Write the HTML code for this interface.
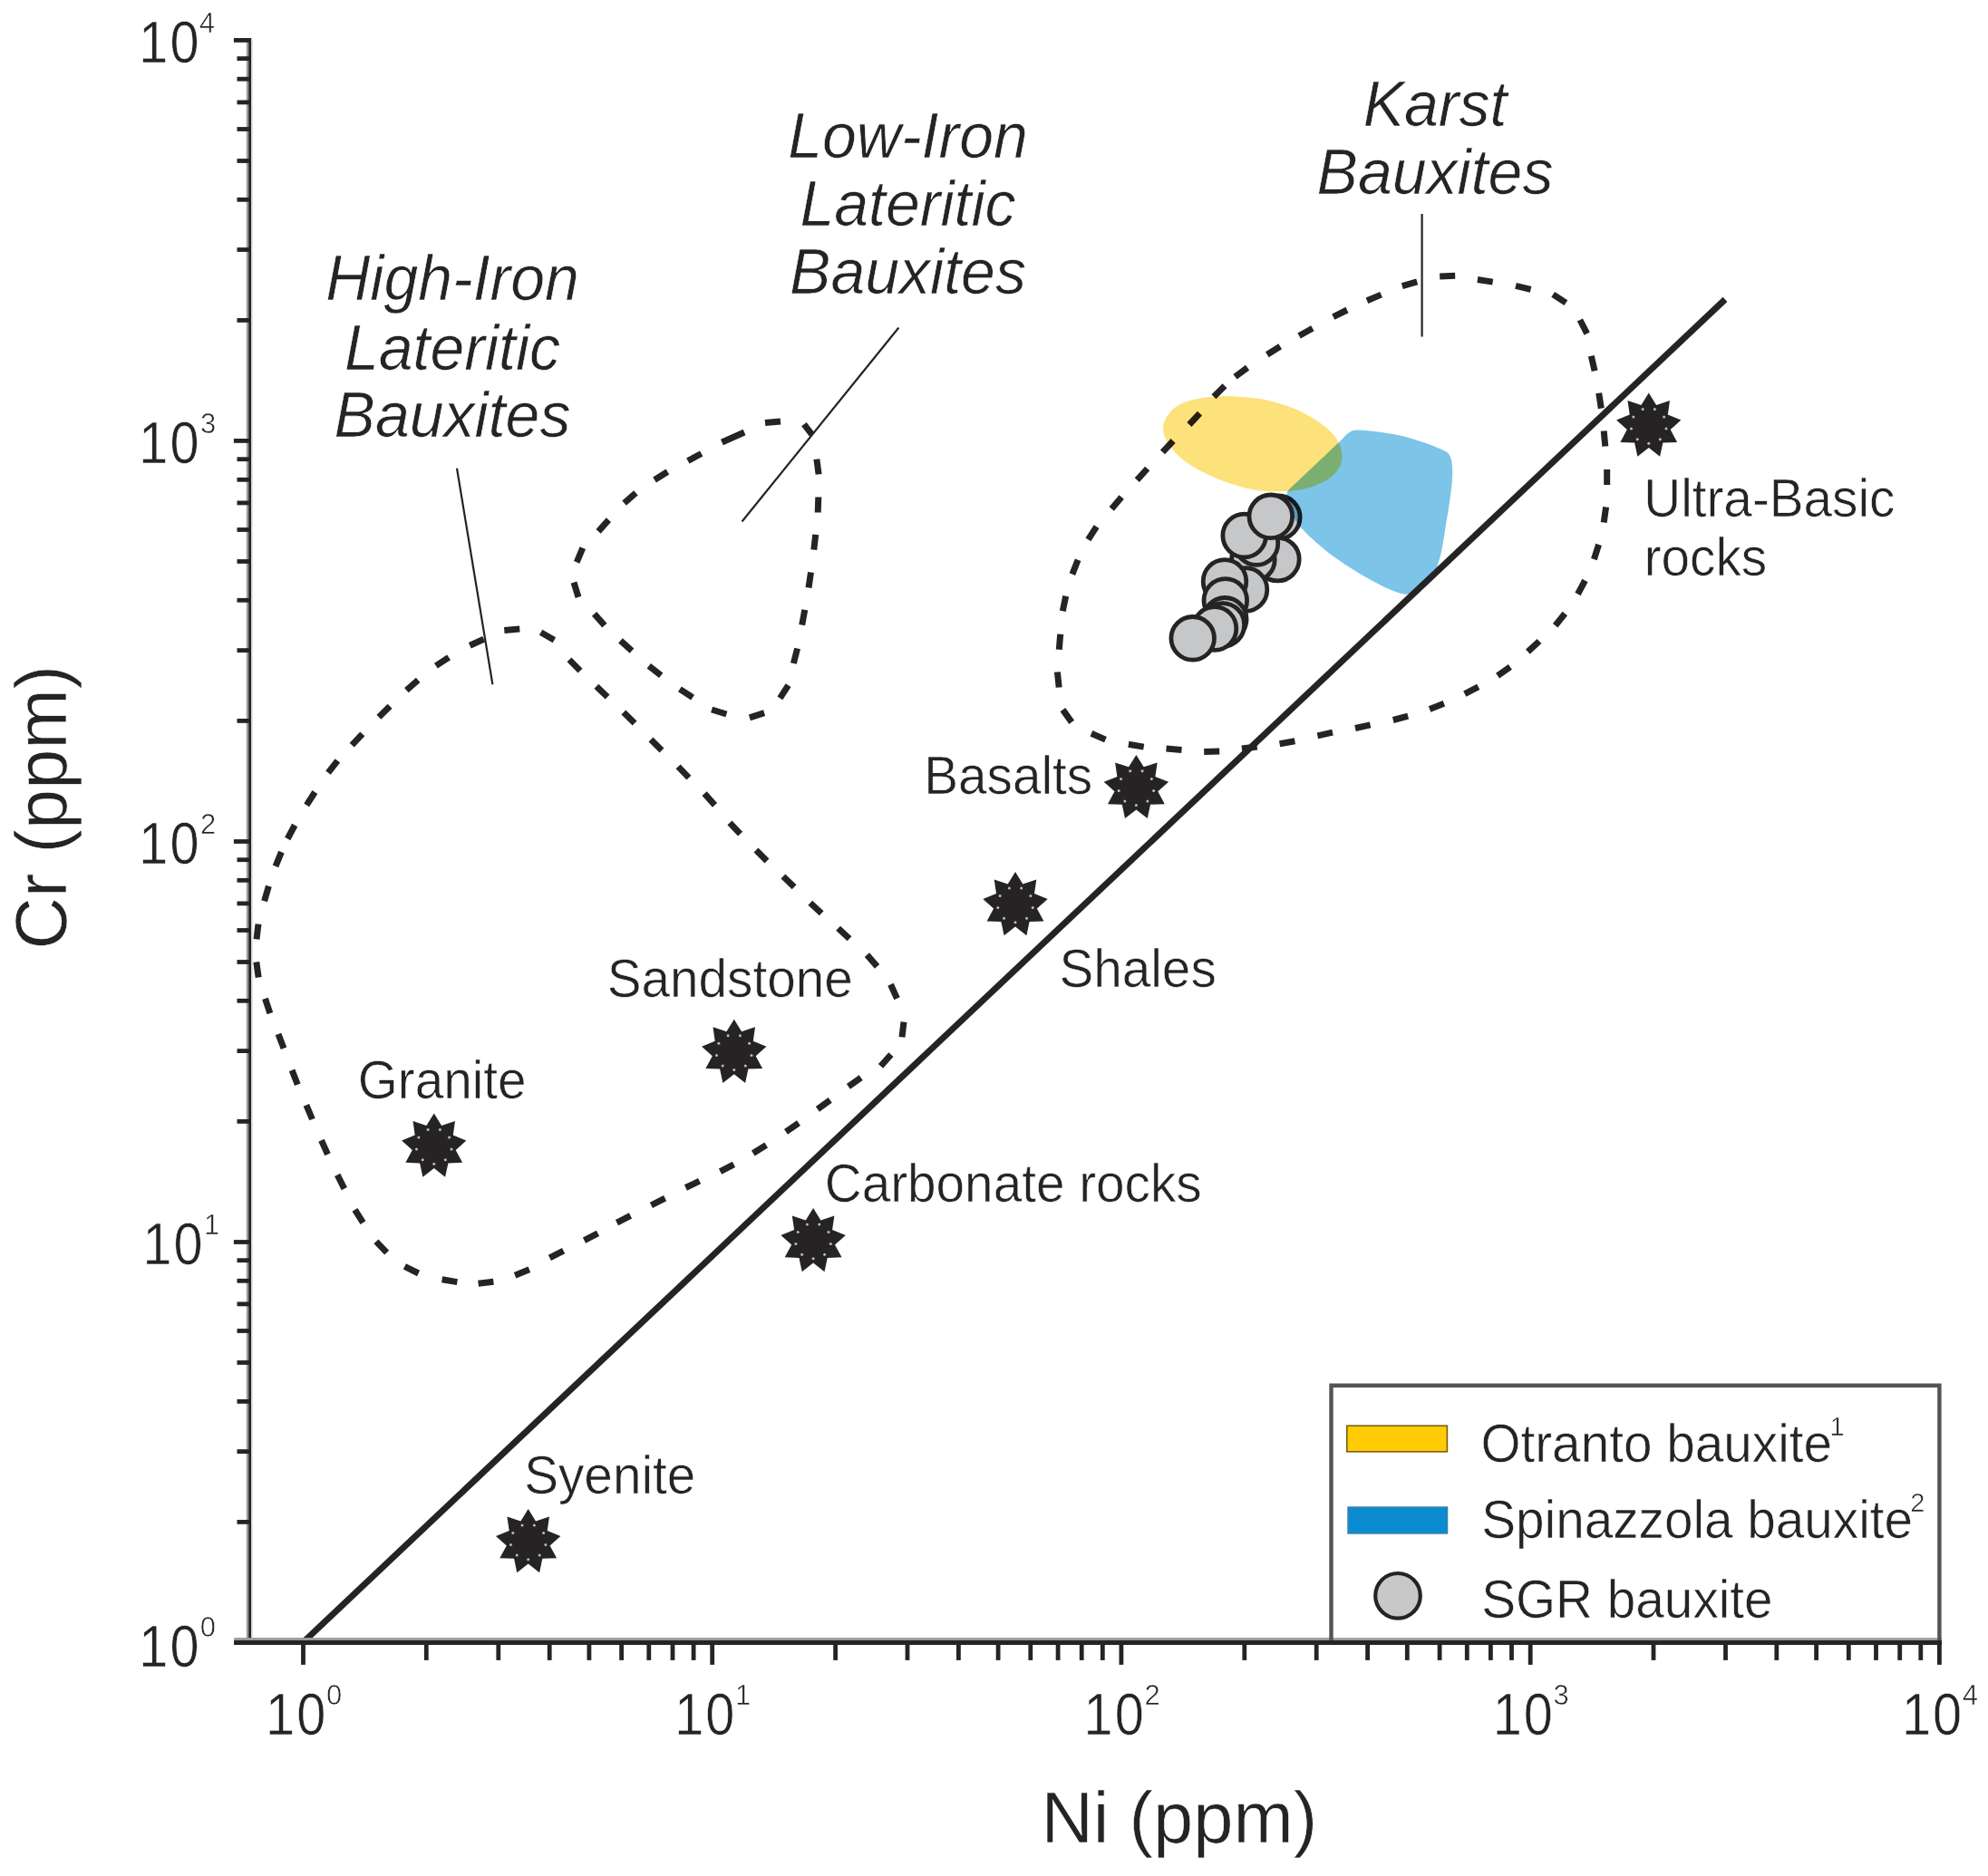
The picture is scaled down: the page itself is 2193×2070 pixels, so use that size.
<!DOCTYPE html>
<html lang="en"><head><meta charset="utf-8"><title>Cr vs Ni bauxite provenance diagram</title>
<style>html,body{margin:0;padding:0;background:#fff}body{width:2193px;height:2070px;overflow:hidden}svg{display:block}text{font-family:"Liberation Sans",sans-serif;fill:#262324;stroke:#fff;stroke-width:.6px}.lab{font-size:56.7px}.it{font-size:68px;font-style:italic;text-anchor:middle}.tk{font-size:65.5px}.sup{font-size:31px}.sup2{font-size:29px}.ax{font-size:79.5px}</style></head><body>
<svg width="2193" height="2070" viewBox="0 0 2193 2070">
<rect width="2193" height="2070" fill="#fff"/>
<g id="fields">
<path d="M573.3,694.1L556.3,695.5M533.7,705.3L518.3,712.3M495.1,725.3L480.9,734.7M461.2,750.4L448.4,761.6M430.1,779.2L417.9,791.2M399.8,809.8L388.2,822.2M372.4,839.3L362.0,852.7M347.4,874.0L338.2,888.4M325.2,910.5L317.2,925.5M310.4,940.1L304.0,955.9M296.4,977.8L291.6,994.2M285.0,1019.6L283.0,1036.4M282.8,1061.6L285.2,1078.4M292.5,1101.9L297.9,1118.1M307.0,1140.9L313.0,1156.7M322.1,1180.9L328.3,1196.7M337.9,1219.4L344.5,1235.0M354.5,1258.3L361.5,1273.7M372.2,1296.4L379.8,1311.6M391.5,1334.8L400.5,1349.2M414.9,1369.9L426.7,1382.1M446.4,1397.4L461.6,1405.0M487.6,1411.8L504.4,1414.6M527.6,1416.2L544.4,1414.2M568.1,1407.2L583.9,1400.8M606.4,1387.9L621.6,1380.1M644.5,1368.7L659.5,1360.9M680.5,1349.1L695.5,1341.3M718.4,1329.8L733.6,1322.2M756.4,1310.5L771.6,1303.1M794.5,1292.7L809.5,1284.9M830.8,1272.5L845.2,1263.5M867.0,1248.9L881.0,1239.1M901.9,1223.8L915.7,1213.8M935.9,1198.9L949.7,1189.1M971.5,1176.3L982.9,1163.7M995.0,1144.4L997.0,1127.6M989.5,1101.8L982.5,1086.2M967.6,1066.4L956.4,1053.6M937.0,1035.8L924.6,1024.2M906.2,1007.8L893.8,996.2M876.1,978.7L863.9,966.9M846.0,950.0L834.0,938.0M816.6,920.2L805.0,907.8M788.5,888.3L777.1,875.7M759.9,858.1L748.1,845.9M730.0,828.0L718.0,816.0M700.1,797.9L687.9,786.1M670.1,769.1L657.9,757.3M640.0,740.1L628.0,727.9M611.4,706.2L596.6,697.8" fill="none" stroke="#262324" stroke-width="7"/>
<path d="M886.9,468.2L895.6,479.3M900.9,506.6L903.1,523.4M902.8,548.5L902.2,565.5M899.7,589.8L897.8,606.7M894.5,631.6L892.0,648.4M887.8,672.9L884.7,689.6M879.6,715.5L875.4,732.0M869.6,756.1L860.4,770.4M843.1,786.7L826.9,791.8M801.4,788.0L785.1,783.0M764.1,769.6L749.9,760.4M729.2,745.3L715.8,734.7M697.0,718.2L684.5,706.8M666.9,690.1L655.6,677.4M638.0,658.9L633.0,642.6M636.2,620.3L642.8,604.7M660.1,586.4L671.4,573.6M688.6,555.1L701.4,543.9M722.1,529.5L736.4,520.5M758.8,508.5L773.7,500.5M796.4,488.0L821.1,477.0M844.0,466.6L861.0,464.9" fill="none" stroke="#262324" stroke-width="7"/>
<path d="M1588.2,304.9L1605.2,304.3M1629.9,308.5L1646.7,311.1M1672.0,315.4L1688.6,319.4M1713.2,324.9L1727.4,334.1M1742.9,353.0L1750.7,368.2M1755.3,392.7L1759.1,409.3M1763.7,433.8L1766.3,450.6M1769.2,475.5L1770.8,492.5M1772.7,517.9L1772.7,534.9M1771.6,559.6L1769.2,576.4M1763.6,600.9L1758.4,617.1M1748.5,640.5L1740.5,655.5M1726.3,677.0L1715.7,690.2M1698.0,707.5L1685.4,719.1M1665.9,735.8L1652.1,745.6M1630.8,757.8L1615.8,765.6M1592.9,776.2L1577.1,782.4M1553.2,790.1L1536.8,794.5M1511.6,799.9L1495.0,803.5M1470.0,808.2L1453.4,811.8M1428.4,817.8L1411.6,820.8M1386.7,824.0L1369.9,826.0M1345.2,829.1L1328.2,829.5M1303.5,827.4L1286.5,826.0M1261.7,824.1L1244.9,821.3M1219.5,816.1L1203.9,809.3M1182.2,796.9L1172.4,783.1M1168.2,758.5L1166.4,741.5M1168.3,716.8L1169.7,699.8M1172.3,674.3L1175.7,657.7M1182.9,633.6L1189.1,617.8M1200.4,595.4L1209.6,581.2M1226.2,561.5L1237.2,548.5M1254.3,529.6L1265.7,517.0M1282.5,498.9L1294.1,486.5M1311.9,468.5L1323.5,456.1M1339.0,437.7L1351.0,425.7M1362.5,415.8L1376.1,405.6M1397.8,391.2L1412.2,382.2M1433.1,370.5L1447.9,362.3M1470.8,349.6L1486.0,342.0M1508.0,331.7L1523.6,325.1M1546.8,315.6L1563.2,310.8" fill="none" stroke="#262324" stroke-width="7"/>
</g>
<g stroke="#262324" stroke-width="2.2" fill="none"><line x1="504" y1="516.7" x2="543.4" y2="755.2"/><line x1="991.4" y1="361.5" x2="818.5" y2="575.5"/><line x1="1568.6" y1="236" x2="1568.6" y2="371.5"/></g>
<line x1="334" y1="1812.5" x2="1903" y2="330.4" stroke="#262324" stroke-width="7"/>
<g><circle cx="1410.3" cy="570.8" r="23.8" fill="#c6c7c9" stroke="#262324" stroke-width="4.8"/></g>
<g style="mix-blend-mode:multiply"><path d="M1282.9,473.1C1282.9,466.9 1286.4,459.8 1290.6,454.9C1294.8,450.0 1300.1,446.4 1307.8,443.5C1315.5,440.6 1326.6,438.7 1336.5,437.7C1346.4,436.7 1356.8,437.1 1367.0,437.7C1377.2,438.3 1387.4,439.3 1397.6,441.5C1407.8,443.7 1419.0,447.3 1428.2,451.1C1437.5,454.9 1446.1,459.9 1453.1,464.5C1460.1,469.1 1466.0,473.9 1470.3,478.8C1474.6,483.7 1477.3,489.0 1478.9,494.1C1480.5,499.2 1480.9,504.6 1479.8,509.4C1478.7,514.2 1476.0,518.8 1472.2,522.8C1468.4,526.8 1463.0,530.4 1456.9,533.3C1450.9,536.2 1443.2,538.5 1435.9,540.0C1428.6,541.5 1421.2,542.1 1412.9,542.3C1404.6,542.4 1395.1,542.2 1386.2,540.9C1377.3,539.5 1368.3,537.1 1359.4,534.2C1350.5,531.3 1341.2,527.8 1332.6,523.7C1324.0,519.6 1314.8,514.6 1307.8,509.4C1300.8,504.1 1294.8,498.2 1290.6,492.2C1286.4,486.1 1282.9,479.3 1282.9,473.1Z" fill="#fde27c"/></g>
<g style="mix-blend-mode:multiply"><path d="M1497,474.6 C1491,474.6 1486,478 1481.7,483.6 L1422,540 C1419,543 1419,545.5 1420.5,549 C1424,566 1429,576 1435.9,583 C1445,593 1458,604 1470.3,613.6 C1489,627 1508,638.4 1527.6,648 C1538,652.5 1549,657 1554.4,655.6 L1585,626 C1589,616 1592,600 1594.5,582 C1599,556 1602,535 1602.2,524.7 C1602.5,510 1601,501 1594.5,497.9 C1580,491 1563,485.5 1546.7,481.1 C1530,477.5 1512,475 1497,474.6Z" fill="#7cc4e8"/></g>
<g><circle cx="1409.4" cy="617.1" r="23.8" fill="#c6c7c9" stroke="#262324" stroke-width="4.8"/><circle cx="1382.4" cy="617.4" r="23.8" fill="#c6c7c9" stroke="#262324" stroke-width="4.8"/><circle cx="1386" cy="599.5" r="23.8" fill="#c6c7c9" stroke="#262324" stroke-width="4.8"/><circle cx="1374" cy="650.5" r="23.8" fill="#c6c7c9" stroke="#262324" stroke-width="4.8"/><circle cx="1351" cy="641.5" r="23.8" fill="#c6c7c9" stroke="#262324" stroke-width="4.8"/><circle cx="1351.8" cy="662.5" r="23.8" fill="#c6c7c9" stroke="#262324" stroke-width="4.8"/><circle cx="1351.3" cy="683.3" r="23.8" fill="#c6c7c9" stroke="#262324" stroke-width="4.8"/><circle cx="1348.8" cy="689.4" r="23.8" fill="#c6c7c9" stroke="#262324" stroke-width="4.8"/><circle cx="1340" cy="693.5" r="23.8" fill="#c6c7c9" stroke="#262324" stroke-width="4.8"/><circle cx="1315.7" cy="704.3" r="23.8" fill="#c6c7c9" stroke="#262324" stroke-width="4.8"/><circle cx="1372.7" cy="591" r="23.8" fill="#c6c7c9" stroke="#262324" stroke-width="4.8"/><circle cx="1401.8" cy="569.8" r="23.8" fill="#c6c7c9" stroke="#262324" stroke-width="4.8"/></g>
<g><polygon points="582.7,1665.0 591.0,1678.4 606.0,1673.5 603.7,1689.0 618.4,1694.9 606.6,1705.4 614.1,1719.3 598.3,1719.8 595.1,1735.2 582.7,1725.5 570.3,1735.2 567.1,1719.8 551.3,1719.3 558.8,1705.4 547.0,1694.9 561.7,1689.0 559.4,1673.5 574.4,1678.4" fill="#262324"/><circle cx="589.4" cy="1682.9" r="1.5" fill="#bdbcbc"/><circle cx="599.6" cy="1691.5" r="1.5" fill="#bdbcbc"/><circle cx="601.9" cy="1704.6" r="1.5" fill="#bdbcbc"/><circle cx="595.2" cy="1716.1" r="1.5" fill="#bdbcbc"/><circle cx="582.7" cy="1720.7" r="1.5" fill="#bdbcbc"/><circle cx="570.2" cy="1716.1" r="1.5" fill="#bdbcbc"/><circle cx="563.5" cy="1704.6" r="1.5" fill="#bdbcbc"/><circle cx="565.8" cy="1691.5" r="1.5" fill="#bdbcbc"/><circle cx="576.0" cy="1682.9" r="1.5" fill="#bdbcbc"/><polygon points="478.8,1228.5 487.1,1241.9 502.0,1237.0 499.8,1252.6 514.4,1258.5 502.7,1269.0 510.1,1282.8 494.4,1283.4 491.1,1298.8 478.8,1289.0 466.4,1298.8 463.1,1283.4 447.4,1282.8 454.8,1269.0 443.1,1258.5 457.7,1252.6 455.5,1237.0 470.4,1241.9" fill="#262324"/><circle cx="485.4" cy="1246.4" r="1.5" fill="#bdbcbc"/><circle cx="495.6" cy="1255.0" r="1.5" fill="#bdbcbc"/><circle cx="498.0" cy="1268.1" r="1.5" fill="#bdbcbc"/><circle cx="491.3" cy="1279.7" r="1.5" fill="#bdbcbc"/><circle cx="478.8" cy="1284.2" r="1.5" fill="#bdbcbc"/><circle cx="466.2" cy="1279.7" r="1.5" fill="#bdbcbc"/><circle cx="459.5" cy="1268.1" r="1.5" fill="#bdbcbc"/><circle cx="461.9" cy="1255.0" r="1.5" fill="#bdbcbc"/><circle cx="472.1" cy="1246.4" r="1.5" fill="#bdbcbc"/><polygon points="809.8,1124.8 818.1,1138.2 833.0,1133.3 830.8,1148.8 845.4,1154.7 833.7,1165.2 841.1,1179.1 825.4,1179.6 822.1,1195.0 809.8,1185.3 797.4,1195.0 794.1,1179.6 778.4,1179.1 785.8,1165.2 774.1,1154.7 788.7,1148.8 786.5,1133.3 801.4,1138.2" fill="#262324"/><circle cx="816.4" cy="1142.7" r="1.5" fill="#bdbcbc"/><circle cx="826.6" cy="1151.2" r="1.5" fill="#bdbcbc"/><circle cx="829.0" cy="1164.4" r="1.5" fill="#bdbcbc"/><circle cx="822.3" cy="1175.9" r="1.5" fill="#bdbcbc"/><circle cx="809.8" cy="1180.5" r="1.5" fill="#bdbcbc"/><circle cx="797.2" cy="1175.9" r="1.5" fill="#bdbcbc"/><circle cx="790.5" cy="1164.4" r="1.5" fill="#bdbcbc"/><circle cx="792.9" cy="1151.2" r="1.5" fill="#bdbcbc"/><circle cx="803.1" cy="1142.7" r="1.5" fill="#bdbcbc"/><polygon points="897.1,1333.0 905.4,1346.4 920.4,1341.5 918.1,1357.1 932.8,1363.0 921.0,1373.5 928.5,1387.3 912.7,1387.9 909.5,1403.3 897.1,1393.5 884.7,1403.3 881.5,1387.9 865.7,1387.3 873.2,1373.5 861.4,1363.0 876.1,1357.1 873.8,1341.5 888.8,1346.4" fill="#262324"/><circle cx="903.8" cy="1350.9" r="1.5" fill="#bdbcbc"/><circle cx="914.0" cy="1359.5" r="1.5" fill="#bdbcbc"/><circle cx="916.3" cy="1372.6" r="1.5" fill="#bdbcbc"/><circle cx="909.6" cy="1384.2" r="1.5" fill="#bdbcbc"/><circle cx="897.1" cy="1388.8" r="1.5" fill="#bdbcbc"/><circle cx="884.6" cy="1384.2" r="1.5" fill="#bdbcbc"/><circle cx="877.9" cy="1372.6" r="1.5" fill="#bdbcbc"/><circle cx="880.2" cy="1359.5" r="1.5" fill="#bdbcbc"/><circle cx="890.4" cy="1350.9" r="1.5" fill="#bdbcbc"/><polygon points="1120.0,962.0 1128.3,975.4 1143.3,970.5 1141.0,986.1 1155.7,992.0 1143.9,1002.5 1151.4,1016.4 1135.6,1016.9 1132.4,1032.3 1120.0,1022.5 1107.6,1032.3 1104.4,1016.9 1088.6,1016.4 1096.1,1002.5 1084.3,992.0 1099.0,986.1 1096.7,970.5 1111.7,975.4" fill="#262324"/><circle cx="1126.7" cy="979.9" r="1.5" fill="#bdbcbc"/><circle cx="1136.9" cy="988.5" r="1.5" fill="#bdbcbc"/><circle cx="1139.2" cy="1001.6" r="1.5" fill="#bdbcbc"/><circle cx="1132.5" cy="1013.2" r="1.5" fill="#bdbcbc"/><circle cx="1120.0" cy="1017.8" r="1.5" fill="#bdbcbc"/><circle cx="1107.5" cy="1013.2" r="1.5" fill="#bdbcbc"/><circle cx="1100.8" cy="1001.6" r="1.5" fill="#bdbcbc"/><circle cx="1103.1" cy="988.5" r="1.5" fill="#bdbcbc"/><circle cx="1113.3" cy="979.9" r="1.5" fill="#bdbcbc"/><polygon points="1253.4,832.9 1261.7,846.3 1276.7,841.4 1274.4,857.0 1289.1,862.8 1277.3,873.3 1284.8,887.2 1269.0,887.7 1265.8,903.1 1253.4,893.4 1241.0,903.1 1237.8,887.7 1222.0,887.2 1229.5,873.3 1217.7,862.8 1232.4,857.0 1230.1,841.4 1245.1,846.3" fill="#262324"/><circle cx="1260.1" cy="850.8" r="1.5" fill="#bdbcbc"/><circle cx="1270.3" cy="859.4" r="1.5" fill="#bdbcbc"/><circle cx="1272.6" cy="872.5" r="1.5" fill="#bdbcbc"/><circle cx="1265.9" cy="884.0" r="1.5" fill="#bdbcbc"/><circle cx="1253.4" cy="888.6" r="1.5" fill="#bdbcbc"/><circle cx="1240.9" cy="884.0" r="1.5" fill="#bdbcbc"/><circle cx="1234.2" cy="872.5" r="1.5" fill="#bdbcbc"/><circle cx="1236.5" cy="859.4" r="1.5" fill="#bdbcbc"/><circle cx="1246.7" cy="850.8" r="1.5" fill="#bdbcbc"/><polygon points="1818.8,433.6 1827.1,446.9 1842.0,442.0 1839.8,457.6 1854.4,463.5 1842.7,474.0 1850.1,487.9 1834.4,488.4 1831.1,503.8 1818.8,494.1 1806.4,503.8 1803.1,488.4 1787.4,487.9 1794.8,474.0 1783.1,463.5 1797.7,457.6 1795.5,442.0 1810.4,446.9" fill="#262324"/><circle cx="1825.4" cy="451.4" r="1.5" fill="#bdbcbc"/><circle cx="1835.6" cy="460.0" r="1.5" fill="#bdbcbc"/><circle cx="1838.0" cy="473.1" r="1.5" fill="#bdbcbc"/><circle cx="1831.3" cy="484.7" r="1.5" fill="#bdbcbc"/><circle cx="1818.8" cy="489.2" r="1.5" fill="#bdbcbc"/><circle cx="1806.2" cy="484.7" r="1.5" fill="#bdbcbc"/><circle cx="1799.5" cy="473.1" r="1.5" fill="#bdbcbc"/><circle cx="1801.9" cy="460.0" r="1.5" fill="#bdbcbc"/><circle cx="1812.1" cy="451.4" r="1.5" fill="#bdbcbc"/></g>
<g id="axes">
<rect x="271.8" y="42.0" width="2.5" height="1773.0" fill="#9b9b9b"/>
<rect x="277.1" y="42.0" width="2.0" height="1765.5" fill="#e6e6e6"/>
<rect x="274.2" y="42.0" width="2.9" height="1773.0" fill="#262324"/>
<rect x="258.2" y="1807.1" width="1883.6" height="3.1" fill="#9b9b9b"/>
<rect x="258.2" y="1810.1" width="1883.6" height="4.9" fill="#262324"/>
<g fill="#262324"><rect x="332.1" y="1812" width="4.8" height="24.9"/><rect x="261.5" y="1677.0" width="14" height="4.8"/><rect x="467.9" y="1812" width="4.8" height="19.9"/><rect x="261.5" y="1599.2" width="14" height="4.8"/><rect x="547.4" y="1812" width="4.8" height="19.9"/><rect x="261.5" y="1544.0" width="14" height="4.8"/><rect x="603.8" y="1812" width="4.8" height="19.9"/><rect x="261.5" y="1501.1" width="14" height="4.8"/><rect x="647.5" y="1812" width="4.8" height="19.9"/><rect x="261.5" y="1466.1" width="14" height="4.8"/><rect x="683.2" y="1812" width="4.8" height="19.9"/><rect x="261.5" y="1436.5" width="14" height="4.8"/><rect x="713.4" y="1812" width="4.8" height="19.9"/><rect x="261.5" y="1410.9" width="14" height="4.8"/><rect x="739.6" y="1812" width="4.8" height="19.9"/><rect x="261.5" y="1388.3" width="14" height="4.8"/><rect x="762.7" y="1812" width="4.8" height="19.9"/><rect x="257.9" y="1368.1" width="18" height="4.8"/><rect x="783.3" y="1812" width="4.8" height="24.9"/><rect x="261.5" y="1235.0" width="14" height="4.8"/><rect x="919.2" y="1812" width="4.8" height="19.9"/><rect x="261.5" y="1157.2" width="14" height="4.8"/><rect x="998.6" y="1812" width="4.8" height="19.9"/><rect x="261.5" y="1101.9" width="14" height="4.8"/><rect x="1055.0" y="1812" width="4.8" height="19.9"/><rect x="261.5" y="1059.1" width="14" height="4.8"/><rect x="1098.7" y="1812" width="4.8" height="19.9"/><rect x="261.5" y="1024.1" width="14" height="4.8"/><rect x="1134.4" y="1812" width="4.8" height="19.9"/><rect x="261.5" y="994.5" width="14" height="4.8"/><rect x="1164.7" y="1812" width="4.8" height="19.9"/><rect x="261.5" y="968.9" width="14" height="4.8"/><rect x="1190.8" y="1812" width="4.8" height="19.9"/><rect x="261.5" y="946.3" width="14" height="4.8"/><rect x="1213.9" y="1812" width="4.8" height="19.9"/><rect x="257.9" y="926.1" width="18" height="4.8"/><rect x="1234.5" y="1812" width="4.8" height="24.9"/><rect x="261.5" y="793.0" width="14" height="4.8"/><rect x="1370.4" y="1812" width="4.8" height="19.9"/><rect x="261.5" y="715.2" width="14" height="4.8"/><rect x="1449.8" y="1812" width="4.8" height="19.9"/><rect x="261.5" y="659.9" width="14" height="4.8"/><rect x="1506.2" y="1812" width="4.8" height="19.9"/><rect x="261.5" y="617.1" width="14" height="4.8"/><rect x="1549.9" y="1812" width="4.8" height="19.9"/><rect x="261.5" y="582.1" width="14" height="4.8"/><rect x="1585.7" y="1812" width="4.8" height="19.9"/><rect x="261.5" y="552.5" width="14" height="4.8"/><rect x="1615.9" y="1812" width="4.8" height="19.9"/><rect x="261.5" y="526.9" width="14" height="4.8"/><rect x="1642.0" y="1812" width="4.8" height="19.9"/><rect x="261.5" y="504.3" width="14" height="4.8"/><rect x="1665.1" y="1812" width="4.8" height="19.9"/><rect x="257.9" y="484.0" width="18" height="4.8"/><rect x="1685.8" y="1812" width="4.8" height="24.9"/><rect x="261.5" y="351.0" width="14" height="4.8"/><rect x="1821.6" y="1812" width="4.8" height="19.9"/><rect x="261.5" y="273.1" width="14" height="4.8"/><rect x="1901.1" y="1812" width="4.8" height="19.9"/><rect x="261.5" y="217.9" width="14" height="4.8"/><rect x="1957.4" y="1812" width="4.8" height="19.9"/><rect x="261.5" y="175.1" width="14" height="4.8"/><rect x="2001.2" y="1812" width="4.8" height="19.9"/><rect x="261.5" y="140.1" width="14" height="4.8"/><rect x="2036.9" y="1812" width="4.8" height="19.9"/><rect x="261.5" y="110.5" width="14" height="4.8"/><rect x="2067.1" y="1812" width="4.8" height="19.9"/><rect x="261.5" y="84.8" width="14" height="4.8"/><rect x="2093.3" y="1812" width="4.8" height="19.9"/><rect x="261.5" y="62.2" width="14" height="4.8"/><rect x="2116.4" y="1812" width="4.8" height="19.9"/><rect x="257.9" y="42.0" width="18" height="4.8"/><rect x="2137.0" y="1812" width="4.8" height="24.9"/></g>
</g>
<g><text class="tk" transform="translate(153.3,1838.9) scale(0.88,1)">1<tspan dx="2.4">0</tspan></text><text class="sup" x="220.7" y="1805.9">0</text><text class="tk" transform="translate(293.0,1913.8) scale(0.88,1)">1<tspan dx="2.4">0</tspan></text><text class="sup" x="359.9" y="1880.8">0</text><text class="tk" transform="translate(157.4,1394.9) scale(0.88,1)">1<tspan dx="2.4">0</tspan></text><text class="sup" x="225.0" y="1361.9">1</text><text class="tk" transform="translate(744.2,1913.8) scale(0.88,1)">1<tspan dx="2.4">0</tspan></text><text class="sup" x="811.1" y="1880.8">1</text><text class="tk" transform="translate(153.3,952.9) scale(0.88,1)">1<tspan dx="2.4">0</tspan></text><text class="sup" x="220.9" y="919.9">2</text><text class="tk" transform="translate(1195.5,1913.8) scale(0.88,1)">1<tspan dx="2.4">0</tspan></text><text class="sup" x="1262.4" y="1880.8">2</text><text class="tk" transform="translate(153.3,510.8) scale(0.88,1)">1<tspan dx="2.4">0</tspan></text><text class="sup" x="220.9" y="477.8">3</text><text class="tk" transform="translate(1646.7,1913.8) scale(0.88,1)">1<tspan dx="2.4">0</tspan></text><text class="sup" x="1713.6" y="1880.8">3</text><text class="tk" transform="translate(153.3,68.8) scale(0.88,1)">1<tspan dx="2.4">0</tspan></text><text class="sup" x="219.7" y="35.8">4</text><text class="tk" transform="translate(2097.9,1913.8) scale(0.88,1)">1<tspan dx="2.4">0</tspan></text><text class="sup" x="2164.8" y="1880.8">4</text></g>
<g id="legend">
<rect x="1468.5" y="1528.8" width="670.9" height="278.3" fill="#fff"/>
<path d="M1468.5,1810 V1528.8 H2139.4 V1810" fill="none" stroke="#555354" stroke-width="4.4"/>
<rect x="258.2" y="1810.1" width="1883.6" height="4.9" fill="#262324"/>
<rect x="1485.8" y="1573.2" width="110.6" height="28.6" fill="#ffcb05" stroke="#7a5f14" stroke-width="1.6"/>
<rect x="1487" y="1663" width="109.6" height="29" fill="#0c8cd0" stroke="#3a7fae" stroke-width="1.4"/>
<circle cx="1542" cy="1760.8" r="24.8" fill="#c8c8c8" stroke="#262324" stroke-width="4.2"/>
<text class="lab" transform="translate(1633.4,1612.5) scale(1,1.05)">Otranto bauxite</text><text class="sup2" x="2018.5" y="1583.8">1</text>
<text class="lab" transform="translate(1634.2,1696.5) scale(1,1.05)">Spinazzola bauxite</text><text class="sup2" x="2107.3" y="1667.5">2</text>
<text class="lab" transform="translate(1634.2,1785) scale(1,1.05)">SGR bauxite</text>
</g>
<g id="labels">
<text class="lab" transform="translate(394.7,1211.7) scale(1,1.05)">Granite</text>
<text class="lab" transform="translate(669.7,1099.5) scale(1,1.05)">Sandstone</text>
<text class="lab" transform="translate(909.7,1325.8) scale(1,1.05)">Carbonate rocks</text>
<text class="lab" transform="translate(578.2,1648.2) scale(1,1.05)">Syenite</text>
<text class="lab" transform="translate(1168.4,1088.8) scale(1,1.05)">Shales</text>
<text class="lab" transform="translate(1019.2,875.8) scale(1,1.05)">Basalts</text>
<text class="lab" transform="translate(1813.2,570) scale(1,1.05)">Ultra-Basic</text>
<text class="lab" transform="translate(1813.7,634.5) scale(1,1.05)">rocks</text>
<text class="it" transform="translate(499,330.8) scale(1,1.03)">High-Iron</text>
<text class="it" transform="translate(499,407.9) scale(1,1.03)">Lateritic</text>
<text class="it" transform="translate(499,482.2) scale(1,1.03)">Bauxites</text>
<text class="it" transform="translate(1001.5,174) scale(1,1.03)">Low-Iron</text>
<text class="it" transform="translate(1001.5,249.1) scale(1,1.03)">Lateritic</text>
<text class="it" transform="translate(1001.5,324.2) scale(1,1.03)">Bauxites</text>
<text class="it" transform="translate(1583,138.5) scale(1,1.03)">Karst</text>
<text class="it" transform="translate(1583,213.9) scale(1,1.03)">Bauxites</text>
<text class="ax" x="1148.4" y="2033">Ni (ppm)</text>
<text class="ax" transform="translate(72.5,1047.5) rotate(-90)">Cr (ppm)</text>
</g>
<rect x="0" y="2050.6" width="2193" height="19.4" fill="#fff"/>
</svg></body></html>
